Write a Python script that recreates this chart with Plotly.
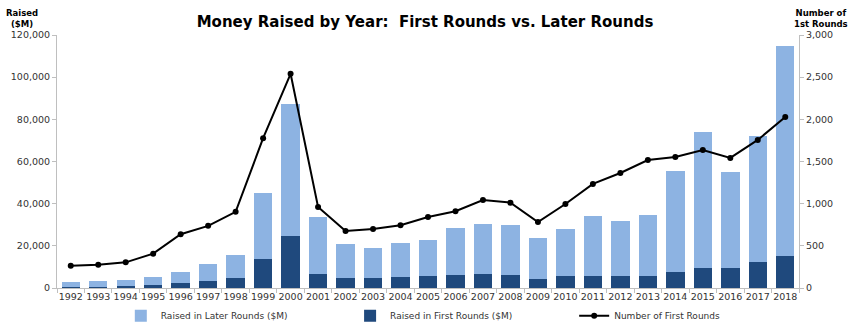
import plotly.graph_objects as go

years = [str(y) for y in range(1992, 2019)]
total_raised = [2.7, 3.2, 3.8, 5.2, 7.8, 11.2, 15.6, 44.9, 87.1, 33.8, 21.0, 18.8, 21.5, 22.9,
                28.3, 30.5, 29.7, 23.5, 28.0, 34.1, 31.6, 34.4, 55.5, 73.9, 55.0, 72.2, 114.8]
first_raised = [0.7, 0.7, 0.95, 1.4, 2.2, 3.3, 4.9, 13.7, 24.8, 6.8, 4.6, 4.6, 5.1, 5.9,
                6.2, 6.8, 6.3, 4.4, 5.5, 5.8, 5.8, 5.8, 7.4, 9.6, 9.5, 12.5, 15.0]
first_raised = [v * 1000 for v in first_raised]
later_raised = [t * 1000 - f for t, f in zip(total_raised, first_raised)]
num_first = [265, 277, 304, 407, 638, 737, 903, 1776, 2540, 960, 676, 700, 744, 842,
             910, 1044, 1012, 783, 996, 1234, 1364, 1518, 1554, 1637, 1542, 1756, 2028]

LIGHT = "#8DB3E2"
DARK = "#1F497D"
FONT = "DejaVu Sans"

fig = go.Figure()
fig.add_trace(go.Bar(x=years, y=first_raised, name="Raised in First Rounds ($M)",
                     marker=dict(color=DARK, line=dict(width=0)), legend="legend2"))
fig.add_trace(go.Bar(x=years, y=later_raised, name="Raised in Later Rounds ($M)",
                     marker=dict(color=LIGHT, line=dict(width=0)), legend="legend"))
fig.add_trace(go.Scatter(x=years, y=num_first, name="Number of First Rounds", yaxis="y2",
                         mode="lines+markers", line=dict(color="black", width=2),
                         marker=dict(color="black", size=6), legend="legend3"))

axis_common = dict(showgrid=False, zeroline=False, showline=True, linecolor="#BFBFBF",
                   linewidth=1, ticks="outside", ticklen=4, tickcolor="#BFBFBF",
                   tickfont=dict(family=FONT, size=9.5, color="#333333"))

legend_common = dict(orientation="h", yref="container", y=0.043, yanchor="middle",
                     xanchor="left", bgcolor="rgba(0,0,0,0)",
                     font=dict(family=FONT, size=9, color="#333333"))

fig.update_layout(
    width=850, height=330,
    margin=dict(l=57, r=51, t=35, b=42, autoexpand=False),
    paper_bgcolor="white", plot_bgcolor="white",
    barmode="stack", bargap=0.33,
    showlegend=True,
    font=dict(family=FONT),
    title=dict(text="<b>Money Raised by Year:  First Rounds vs. Later Rounds</b>",
               x=0.5, xanchor="center", y=0.935, yanchor="middle",
               font=dict(family=FONT, size=15, color="black")),
    xaxis=dict(axis_common, tickson="boundaries", type="category", tickangle=0,
               range=[-0.5, len(years) - 0.5], automargin=False),
    yaxis=dict(axis_common, range=[0, 120000], dtick=20000, tickformat=",", automargin=False),
    yaxis2=dict(axis_common, range=[0, 3000], dtick=500, tickformat=",",
                overlaying="y", side="right", automargin=False),
    legend=dict(legend_common, x=0.086),
    legend2=dict(legend_common, x=0.395),
    legend3=dict(legend_common, x=0.697),
    annotations=[
        dict(text="<b>Raised<br>($M)</b>", xref="paper", yref="paper", x=-0.047, y=1.115,
             xanchor="center", yanchor="top", showarrow=False,
             font=dict(family=FONT, size=8.5, color="black")),
        dict(text="<b>Number of<br>1st Rounds</b>", xref="paper", yref="paper", x=1.03, y=1.115,
             xanchor="center", yanchor="top", showarrow=False,
             font=dict(family=FONT, size=8.5, color="black")),
    ],
)

fig.write_html("out.html")
